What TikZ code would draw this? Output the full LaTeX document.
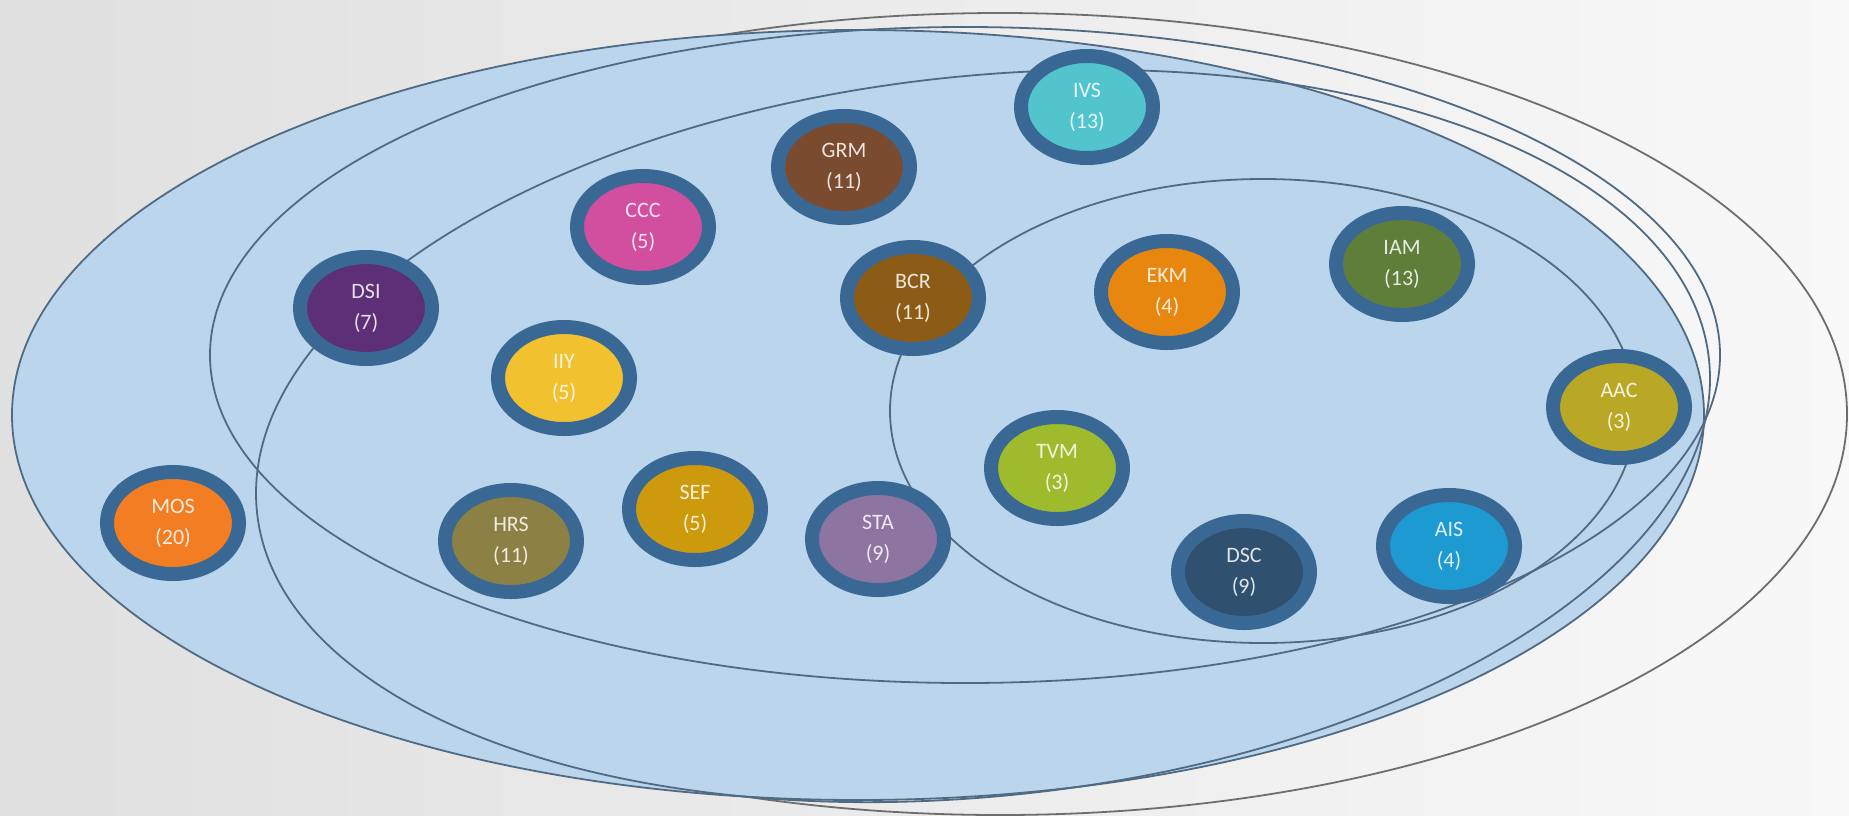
\documentclass[tikz,border=0pt]{standalone}
\usepackage{fontspec}
\setmainfont{Carlito}
\usetikzlibrary{shapes.geometric}
\definecolor{bgL}{HTML}{E0E0E0}
\definecolor{bgR}{HTML}{F8F8F8}
\definecolor{setfill}{HTML}{BAD5EC}
\definecolor{setln}{HTML}{4F6A82}
\definecolor{outln}{HTML}{6E6E6E}
\definecolor{ring}{HTML}{3A6894}
\definecolor{cIVS}{HTML}{52C4CE}
\definecolor{cGRM}{HTML}{7A4B2E}
\definecolor{cCCC}{HTML}{D24E9E}
\definecolor{cDSI}{HTML}{5C2F76}
\definecolor{cIIY}{HTML}{F2C130}
\definecolor{cBCR}{HTML}{8C5C16}
\definecolor{cEKM}{HTML}{E8870F}
\definecolor{cIAM}{HTML}{5E7E3A}
\definecolor{cAAC}{HTML}{B9A826}
\definecolor{cTVM}{HTML}{9EBB2E}
\definecolor{cMOS}{HTML}{F37D22}
\definecolor{cHRS}{HTML}{8C8044}
\definecolor{cSEF}{HTML}{CC9A0C}
\definecolor{cSTA}{HTML}{8E74A0}
\definecolor{cDSC}{HTML}{2F506E}
\definecolor{cAIS}{HTML}{1E9AD2}
\begin{document}
\begin{tikzpicture}[x=1pt,y=-1pt,
  bub/.style={ellipse, draw=ring, line width=14pt, minimum width=132pt,
    minimum height=102pt, inner sep=0pt, align=center, text=white,
    text opacity=0.85, font=\fontsize{22}{31}\selectfont},
  setline/.style={draw=setln, line width=1.8pt},
  outerline/.style={draw=outln, line width=1.8pt}]
\useasboundingbox (0,0) rectangle (1849,815);
\shade[left color=bgL, right color=bgR] (0,0) rectangle (1849,815);
% sets
\draw[outerline] (1000,414) ellipse [x radius=847, y radius=401];
\filldraw[fill=setfill, setline] (858,415) ellipse [x radius=846, y radius=385];
\draw[setline] (965,355) ellipse [x radius=755, y radius=328];
\draw[setline, rotate around={6:(983,436)}] (983,436) ellipse [x radius=730, y radius=360];
\draw[setline] (1263,411) ellipse [x radius=373, y radius=232];
% nodes
\node[bub, fill=cIVS] (ivs) at (1087,107) {IVS\\(13)};
\node[bub, fill=cGRM] (grm) at (844,167) {GRM\\(11)};
\node[bub, fill=cCCC] (ccc) at (643,227) {CCC\\(5)};
\node[bub, fill=cDSI] (dsi) at (366,308) {DSI\\(7)};
\node[bub, fill=cIIY] (iiy) at (564,378) {IIY\\(5)};
\node[bub, fill=cBCR] (bcr) at (913,298) {BCR\\(11)};
\node[bub, fill=cEKM] (ekm) at (1167,292) {EKM\\(4)};
\node[bub, fill=cIAM] (iam) at (1402,264) {IAM\\(13)};
\node[bub, fill=cAAC] (aac) at (1619,407) {AAC\\(3)};
\node[bub, fill=cTVM] (tvm) at (1057,468) {TVM\\(3)};
\node[bub, fill=cMOS] (mos) at (173,523) {MOS\\(20)};
\node[bub, fill=cHRS] (hrs) at (511,541) {HRS\\(11)};
\node[bub, fill=cSEF] (sef) at (695,509) {SEF\\(5)};
\node[bub, fill=cSTA] (sta) at (878,539) {STA\\(9)};
\node[bub, fill=cDSC] (dsc) at (1244,572) {DSC\\(9)};
\node[bub, fill=cAIS] (ais) at (1449,546) {AIS\\(4)};
\end{tikzpicture}
\end{document}
